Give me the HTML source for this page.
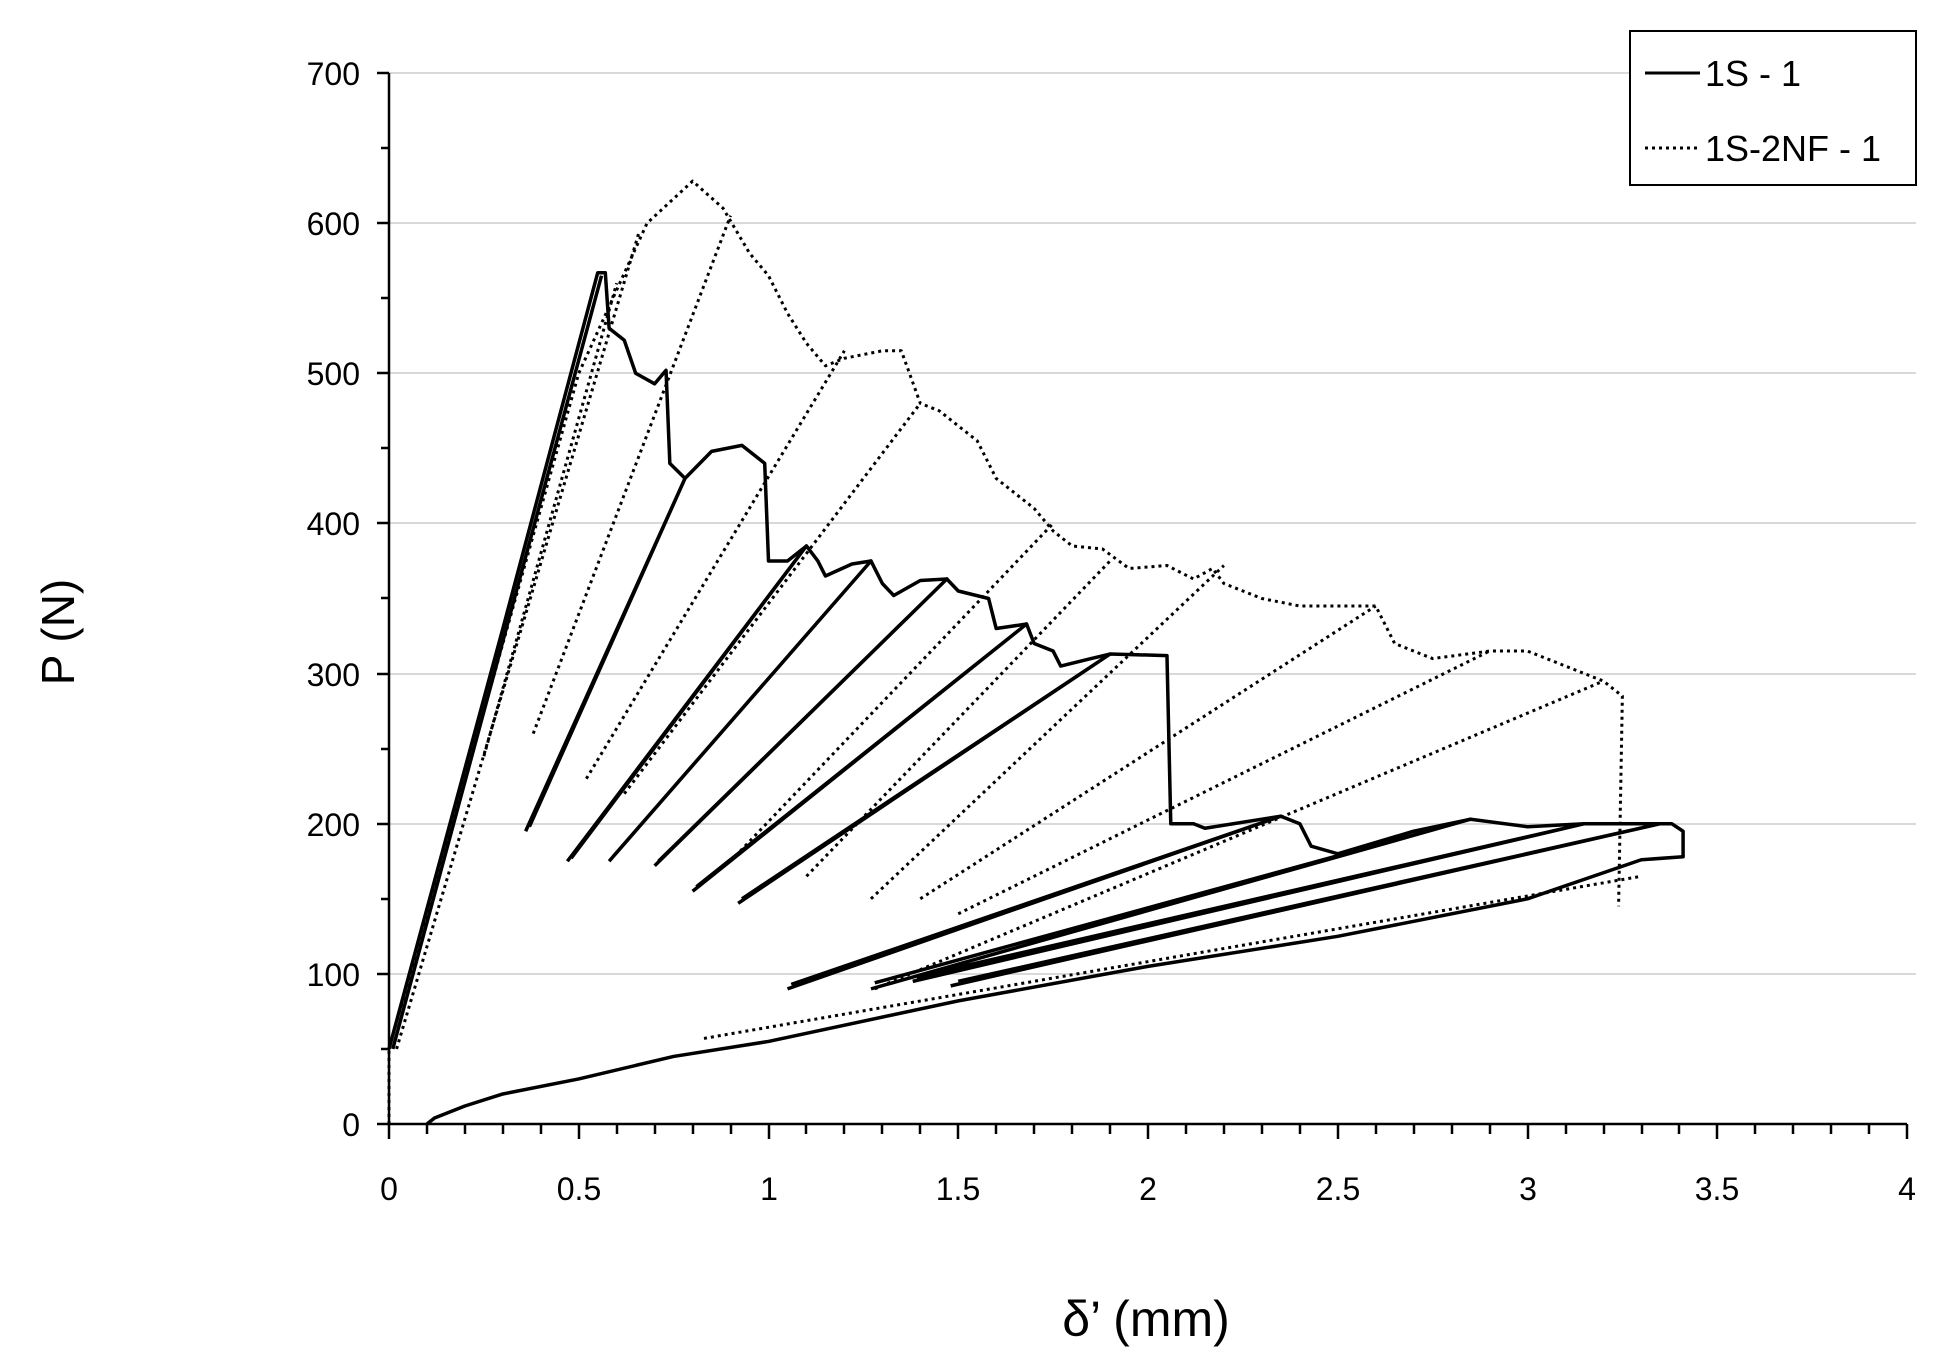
<!DOCTYPE html>
<html><head><meta charset="utf-8"><style>
html,body{margin:0;padding:0;background:#fff;}
svg{display:block;font-family:"Liberation Sans",sans-serif;}
</style></head><body>
<svg width="1947" height="1365" viewBox="0 0 1947 1365" xmlns="http://www.w3.org/2000/svg">
<g stroke="#d9d9d9" stroke-width="2">
<line x1="389" y1="73" x2="1916" y2="73"/><line x1="389" y1="223" x2="1916" y2="223"/>
<line x1="389" y1="373" x2="1916" y2="373"/><line x1="389" y1="523" x2="1916" y2="523"/>
<line x1="389" y1="674" x2="1916" y2="674"/><line x1="389" y1="824" x2="1916" y2="824"/>
<line x1="389" y1="974" x2="1916" y2="974"/>
</g>
<g stroke="#000" stroke-width="2.5">
<line x1="389" y1="73" x2="389" y2="1124"/><line x1="389" y1="1124" x2="1907" y2="1124"/>
<path d="M377 73H389M377 223H389M377 373H389M377 523H389M377 674H389M377 824H389M377 974H389M377 1124H389M381 148H389M381 298H389M381 448H389M381 598H389M381 749H389M381 899H389M381 1049H389"/>
<path d="M389 1124v15M427 1124v10M465 1124v10M503 1124v10M541 1124v10M579 1124v15M617 1124v10M655 1124v10M693 1124v10M731 1124v10M769 1124v15M806 1124v10M844 1124v10M882 1124v10M920 1124v10M958 1124v15M996 1124v10M1034 1124v10M1072 1124v10M1110 1124v10M1148 1124v15M1186 1124v10M1224 1124v10M1262 1124v10M1300 1124v10M1338 1124v15M1376 1124v10M1414 1124v10M1452 1124v10M1490 1124v10M1528 1124v15M1566 1124v10M1604 1124v10M1642 1124v10M1679 1124v10M1717 1124v15M1755 1124v10M1793 1124v10M1831 1124v10M1869 1124v10M1907 1124v15"/>
</g>
<g font-size="32" fill="#000" text-anchor="end">
<text x="360" y="85">700</text><text x="360" y="235">600</text><text x="360" y="385">500</text>
<text x="360" y="535">400</text><text x="360" y="686">300</text><text x="360" y="836">200</text>
<text x="360" y="986">100</text><text x="360" y="1136">0</text>
</g>
<g font-size="32" fill="#000" text-anchor="middle">
<text x="389" y="1200">0</text><text x="579" y="1200">0.5</text><text x="769" y="1200">1</text>
<text x="958" y="1200">1.5</text><text x="1148" y="1200">2</text><text x="1338" y="1200">2.5</text>
<text x="1528" y="1200">3</text><text x="1717" y="1200">3.5</text><text x="1907" y="1200">4</text>
</g>
<text x="1146" y="1336" font-size="50" text-anchor="middle">δ’ (mm)</text>
<text x="0" y="0" font-size="46" text-anchor="middle" transform="translate(74,632) rotate(-90)">P (N)</text>
<g transform="translate(389,1124) scale(379.5,-1.5014)" fill="none" stroke="#000" stroke-linejoin="round">
<path vector-effect="non-scaling-stroke" stroke-width="3.5" d="M0 50L0.3 330L0.55 567L0.57 567L0.58 530L0.62 522L0.65 500L0.7 493L0.73 502L0.74 440L0.78 430L0.85 448L0.93 452L0.99 440L1.0 375L1.05 375L1.1 385L1.13 375L1.15 365L1.22 373L1.27 375L1.3 360L1.33 352L1.4 362L1.47 363L1.5 355L1.58 350L1.6 330L1.68 333L1.7 320L1.75 315L1.77 305L1.85 310L1.9 313L2.05 312L2.06 200L2.12 200L2.15 197L2.35 205L2.4 200L2.43 185L2.5 180L2.7 195L2.85 203L3.0 198L3.15 200L3.3 200L3.38 200L3.41 195L3.41 178L3.3 176L3.0 150L2.5 125L2.0 105L1.5 82L1.0 55L0.75 45L0.5 30L0.3 20L0.2 12L0.12 4L0.1 0"/>
<path vector-effect="non-scaling-stroke" stroke-width="3.5" d="M0.01 50L0.56 565M0.36 195L0.78 430L0.37 198M0.47 175L1.1 385L0.48 177M0.58 175L1.27 375L0.59 178M0.7 172L1.47 363L0.71 175M0.8 155L1.68 333L0.81 158M0.92 147L1.9 313L0.93 150M1.05 90L2.35 205L1.06 93M1.27 90L2.85 203L1.28 94M1.38 95L3.15 200L1.39 98M1.48 92L3.35 200L1.5 95"/>
<path vector-effect="non-scaling-stroke" stroke-width="3" stroke-dasharray="3 4" d="M0 0L0 50L0.5 500L0.68 600L0.8 628L0.88 610L0.95 580L1.0 565L1.05 540L1.1 520L1.15 505L1.2 510L1.3 515L1.35 515L1.4 480L1.45 475L1.55 455L1.6 430L1.7 410L1.75 395L1.8 385L1.88 383L1.95 370L2.05 372L2.12 363L2.17 370L2.2 360L2.3 350L2.4 345L2.6 345L2.65 320L2.75 310L2.9 315L3.0 315L3.1 305L3.2 295L3.25 285L3.24 145"/>
<path vector-effect="non-scaling-stroke" stroke-width="3" stroke-dasharray="3 4" d="M0.02 50L0.66 595M0.38 260L0.9 605M0.52 230L1.2 515M0.62 220L1.4 480M0.9 175L1.75 400M1.1 165L1.9 375M1.27 150L2.2 372M1.4 150L2.6 345M1.5 140L2.9 315M1.28 90L3.2 295M0.83 57L3.3 165M0.25 245L0.6 560"/>
</g>
<rect x="1630" y="31" width="286" height="154" fill="#fff" stroke="#000" stroke-width="2"/>
<line x1="1645" y1="73" x2="1700" y2="73" stroke="#000" stroke-width="3"/>
<line x1="1645" y1="148" x2="1700" y2="148" stroke="#000" stroke-width="3" stroke-dasharray="3 4"/>
<text x="1705" y="86" font-size="36">1S - 1</text>
<text x="1705" y="161" font-size="36">1S-2NF - 1</text>
</svg>
</body></html>
